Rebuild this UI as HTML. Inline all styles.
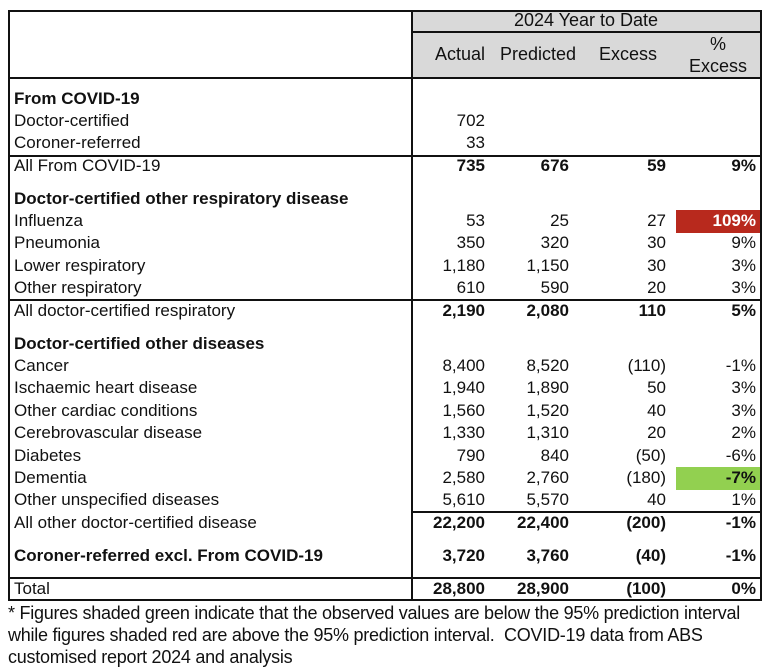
<!DOCTYPE html>
<html><head><meta charset="utf-8">
<style>
body{margin:0;background:#fff;width:768px;height:670px;overflow:hidden;font-family:"Liberation Sans",Arial,sans-serif;color:#111;}
#wrap{position:relative;width:768px;height:670px;}
.t{position:absolute;font-size:17px;white-space:nowrap;line-height:20px;}
.r{text-align:right;}
.b{font-weight:bold;}
.ln{position:absolute;background:#111;}
</style></head>
<body>
<div id="wrap">
  <div style="position:absolute;left:412px;top:10px;width:348px;height:68px;background:#d9d9d9"></div>
  <div class="ln" style="left:8px;top:10px;width:754px;height:2px"></div>
  <div class="ln" style="left:8px;top:10px;width:2px;height:591px"></div>
  <div class="ln" style="left:760px;top:10px;width:2px;height:591px"></div>
  <div class="ln" style="left:411px;top:10px;width:2px;height:591px"></div>
  <div class="ln" style="left:412px;top:31px;width:350px;height:2px"></div>
  <div class="ln" style="left:8px;top:77px;width:754px;height:2px"></div>
  <div class="ln" style="left:8px;top:155px;width:754px;height:2px"></div>
  <div class="ln" style="left:8px;top:299px;width:754px;height:2px"></div>
  <div class="ln" style="left:412px;top:511px;width:350px;height:2px"></div>
  <div class="ln" style="left:8px;top:577px;width:754px;height:2px"></div>
  <div class="ln" style="left:8px;top:599px;width:754px;height:2px"></div>
  <div style="position:absolute;left:676px;top:210px;width:84px;height:23px;background:#b8291d"></div>
  <div style="position:absolute;left:676px;top:467px;width:84px;height:23px;background:#92d050"></div>
  <div class="t" style="left:412px;width:348px;top:10px;text-align:center;font-size:18px">2024 Year to Date</div>
  <div class="t r" style="left:400px;width:85px;top:44px;font-size:18px">Actual</div>
  <div class="t r" style="left:480px;width:96px;top:44px;font-size:18px">Predicted</div>
  <div class="t r" style="left:580px;width:77px;top:44px;font-size:18px">Excess</div>
  <div class="t" style="left:680px;width:76px;top:33px;text-align:center;line-height:22px;font-size:18px">%<br>Excess</div>
  <div class="t" style="left:8px;top:602px;width:760px;white-space:normal;line-height:22px;font-size:18px;letter-spacing:-0.25px">* Figures shaded green indicate that the observed values are below the 95% prediction interval while figures shaded red are above the 95% prediction interval.&nbsp; COVID-19 data from ABS customised report 2024 and analysis</div>
</div>
<script>
const labels=["From COVID-19","Doctor-certified","Coroner-referred","All From COVID-19","Doctor-certified other respiratory disease","Influenza","Pneumonia","Lower respiratory","Other respiratory","All doctor-certified respiratory","Doctor-certified other diseases","Cancer","Ischaemic heart disease","Other cardiac conditions","Cerebrovascular disease","Diabetes","Dementia","Other unspecified diseases","All other doctor-certified disease","Coroner-referred excl. From COVID-19","Total"];
const rowY=[99,121,143,166,199,221,243,266,288,311,344,366,388,411,433,456,478,500,523,556,589];
const actual=["","702","33","735","","53","350","1,180","610","2,190","","8,400","1,940","1,560","1,330","790","2,580","5,610","22,200","3,720","28,800"];
const predicted=["","","","676","","25","320","1,150","590","2,080","","8,520","1,890","1,520","1,310","840","2,760","5,570","22,400","3,760","28,900"];
const excess=["","","","59","","27","30","30","20","110","","(110)","50","40","20","(50)","(180)","40","(200)","(40)","(100)"];
const pctExcess=["","","","9%","","109%","9%","3%","3%","5%","","-1%","3%","3%","2%","-6%","-7%","1%","-1%","-1%","0%"];
const boldLabels=[0,4,10,19];
const boldNums=[3,9,18,19,20];
const boldPct=[5,16];
const wrap=document.getElementById('wrap');
function mk(txt,x,w,y,cls,color){const d=document.createElement('div');d.className='t '+cls;d.style.left=x+'px';d.style.width=w+'px';d.style.top=(y-10)+'px';if(color)d.style.color=color;d.textContent=txt;wrap.appendChild(d);return d;}
labels.forEach((l,i)=>{
  const d=mk(l,14,395,rowY[i],boldLabels.includes(i)?'b':'');
  
  
  const cols=[[actual,400,85],[predicted,480,89],[excess,580,86],[pctExcess,680,76]];
  cols.forEach((c,j)=>{
    if(!c[0][i])return;
    const isB=boldNums.includes(i)||(j==3&&boldPct.includes(i));
    const e=mk(c[0][i],c[1],c[2],rowY[i],'r'+(isB?' b':''),(j==3&&i==5)?'#fff':null);
    
    
  });
});
</script>
</body></html>
